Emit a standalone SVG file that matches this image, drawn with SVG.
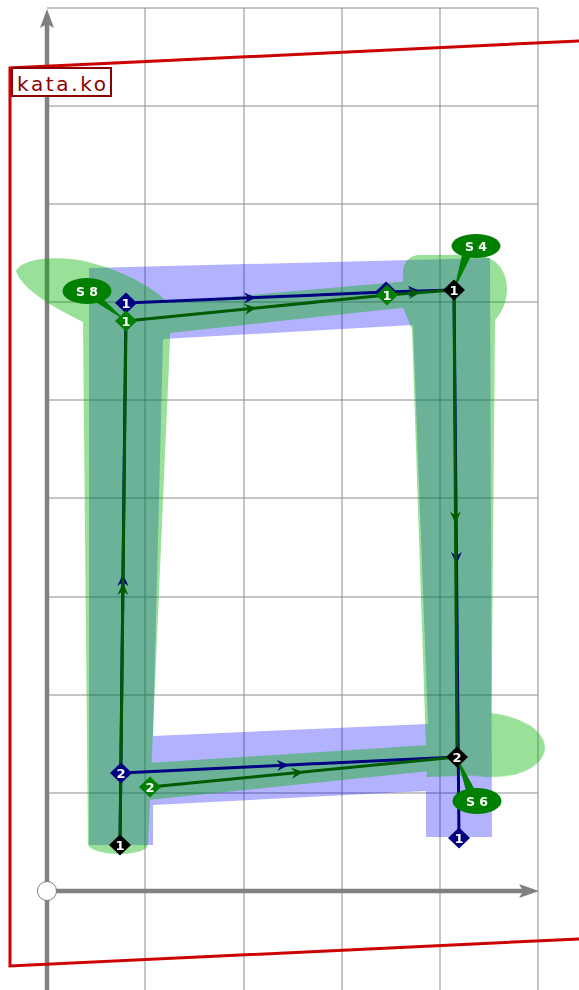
<svg xmlns="http://www.w3.org/2000/svg" width="579" height="990" viewBox="0 0 579 990">
<defs>
<style>
.grid{stroke:#8c8c8c;stroke-width:1;fill:none}
.axis{stroke:#808080;stroke-width:4.5;fill:none}
.axh{fill:#808080}
.navy{stroke:#000080;stroke-width:3;fill:none;marker-mid:url(#an)}
.grn{stroke:#005a00;stroke-width:3;fill:none;marker-mid:url(#ag)}
.dn{fill:#000080}
.dg{fill:#008000}
.dk{fill:#000000}
.dt{font-family:"DejaVu Sans",sans-serif;font-weight:bold;font-size:13px;fill:#ffffff;text-anchor:middle}
.lbl{fill:#008000}
.lt{font-family:"DejaVu Sans",sans-serif;font-weight:bold;font-size:12.5px;fill:#ffffff;text-anchor:middle}
</style>
<marker id="an" markerUnits="userSpaceOnUse" markerWidth="16" markerHeight="12" refX="14" refY="6" orient="auto" viewBox="0 0 16 12"><path d="M14,6 L2,0.5 L6,6 L2,11.5 Z" fill="#000080"/></marker>
<marker id="ag" markerUnits="userSpaceOnUse" markerWidth="16" markerHeight="12" refX="14" refY="6" orient="auto" viewBox="0 0 16 12"><path d="M14,6 L2,0.5 L6,6 L2,11.5 Z" fill="#005a00"/></marker>
</defs>
<rect width="579" height="990" fill="#ffffff"/>
<g id="grid">
<path class="grid" d="M145,8V990M244,8V990M342,8V990M440,8V990M538,8V990"/>
<path class="grid" d="M47,8H538M47,106H538M47,204H538M47,302H538M47,400H538M47,498H538M47,597H538M47,695H538M47,793H538"/>
</g>
<g id="axes">
<path class="axis" d="M47,990V24"/>
<polygon class="axh" points="47,9 40,28 47,24 54,28"/>
<path class="axis" d="M56,891H524"/>
<polygon class="axh" points="539,891 519,884 523,891 519,898"/>
<circle cx="47" cy="891" r="9.5" fill="#ffffff" stroke="#808080" stroke-width="1"/>
</g>
<g id="frame">
<polygon points="600,40 10,68 10,966 600,938" fill="none" stroke="#cc0000" stroke-width="3"/>
<rect x="12" y="68" width="99" height="28" fill="#ffffff" stroke="#8b0000" stroke-width="2"/>
<text x="17" y="90.5" font-family="'DejaVu Sans', sans-serif" font-size="20" fill="#8b0000" textLength="89" lengthAdjust="spacing">kata.ko</text>
</g>
<g id="template" opacity="0.3">
<path fill="#0000ff" fill-rule="evenodd" d="M89,268 L490,258 L492,837 L426,837 L426,791 L153,805 L153,845 L89,845 Z M163,339 L413,325 L428,724 L153,736 Z"/>
</g>
<g id="drawn" opacity="0.4" fill="#00b200">
<path d="M16,271 C25,255 70,256 95,264 C125,272 155,288 170,305 L170,340 L148,845 C145,857 95,857 88,845 L83,322 C55,308 22,290 16,271 Z"/>
<polygon points="160,303 410,281 410,307 160,334"/>
<path d="M412,330 L403,307 L403,272 C403,262 410,255 420,255 L478,255 C500,258 508,275 507,292 C506,305 500,315 495,320 L491,775 L427,777 Z"/>
<ellipse cx="487" cy="745" rx="58" ry="32" transform="rotate(4 487 745)"/>
<polygon points="148,763 430,745 430,771 148,800"/>
</g>
<g id="connectors">
<path class="navy" d="M126,303 L256,297.5 L386,292"/>
<path class="navy" d="M386,292 L420,291 L454,290"/>
<path class="navy" d="M454,290 L456.5,564 L459,838"/>
<path class="navy" d="M121,773 L289,765 L457,757"/>
<path class="navy" d="M120,845 L123,574 L126,303"/>
<path class="grn" d="M126,321 L256.5,308 L387,295"/>
<path class="grn" d="M387,295 L420.5,292.5 L454,290"/>
<path class="grn" d="M454,290 L455.5,523.5 L457,757"/>
<path class="grn" d="M150,787 L303.5,772 L457,757"/>
<path class="grn" d="M120,845 L123,583 L126,321"/>
</g>
<g id="label-s8">
<polygon class="lbl" points="94,301 102,298 126,321"/>
<ellipse class="lbl" cx="87" cy="291" rx="24.5" ry="13"/>
<text class="lt" x="87" y="295.5">S 8</text>
</g>
<g id="label-s4">
<polygon class="lbl" points="462,255 471,256 454,290"/>
<ellipse class="lbl" cx="476" cy="246" rx="24.5" ry="12"/>
<text class="lt" x="476" y="250.5">S 4</text>
</g>
<g id="label-s6">
<polygon class="lbl" points="466,791 475,790 457,757"/>
<ellipse class="lbl" cx="477" cy="801" rx="24.5" ry="13"/>
<text class="lt" x="477" y="805.5">S 6</text>
</g>
<g id="node-n1a" transform="translate(126,303)"><polygon class="dn" points="0,-10.5 11,0 0,10.5 -11,0"/><text class="dt" y="4.5">1</text></g>
<g id="node-n1b" transform="translate(386,292)"><polygon class="dn" points="0,-10.5 11,0 0,10.5 -11,0"/></g>
<g id="node-n1c" transform="translate(459,838)"><polygon class="dn" points="0,-10.5 11,0 0,10.5 -11,0"/><text class="dt" y="4.5">1</text></g>
<g id="node-n2" transform="translate(121,773)"><polygon class="dn" points="0,-10.5 11,0 0,10.5 -11,0"/><text class="dt" y="4.5">2</text></g>
<g id="node-g1a" transform="translate(126,321)"><polygon class="dg" points="0,-10.5 11,0 0,10.5 -11,0"/><text class="dt" y="4.5">1</text></g>
<g id="node-g1b" transform="translate(387,295)"><polygon class="dg" points="0,-10.5 11,0 0,10.5 -11,0"/><text class="dt" y="4.5">1</text></g>
<g id="node-g2" transform="translate(150,787)"><polygon class="dg" points="0,-10.5 11,0 0,10.5 -11,0"/><text class="dt" y="4.5">2</text></g>
<g id="node-k1a" transform="translate(454,290)"><polygon class="dk" points="0,-10.5 11,0 0,10.5 -11,0"/><text class="dt" y="4.5">1</text></g>
<g id="node-k2" transform="translate(457,757)"><polygon class="dk" points="0,-10.5 11,0 0,10.5 -11,0"/><text class="dt" y="4.5">2</text></g>
<g id="node-k1b" transform="translate(120,845)"><polygon class="dk" points="0,-10.5 11,0 0,10.5 -11,0"/><text class="dt" y="4.5">1</text></g>
</svg>
